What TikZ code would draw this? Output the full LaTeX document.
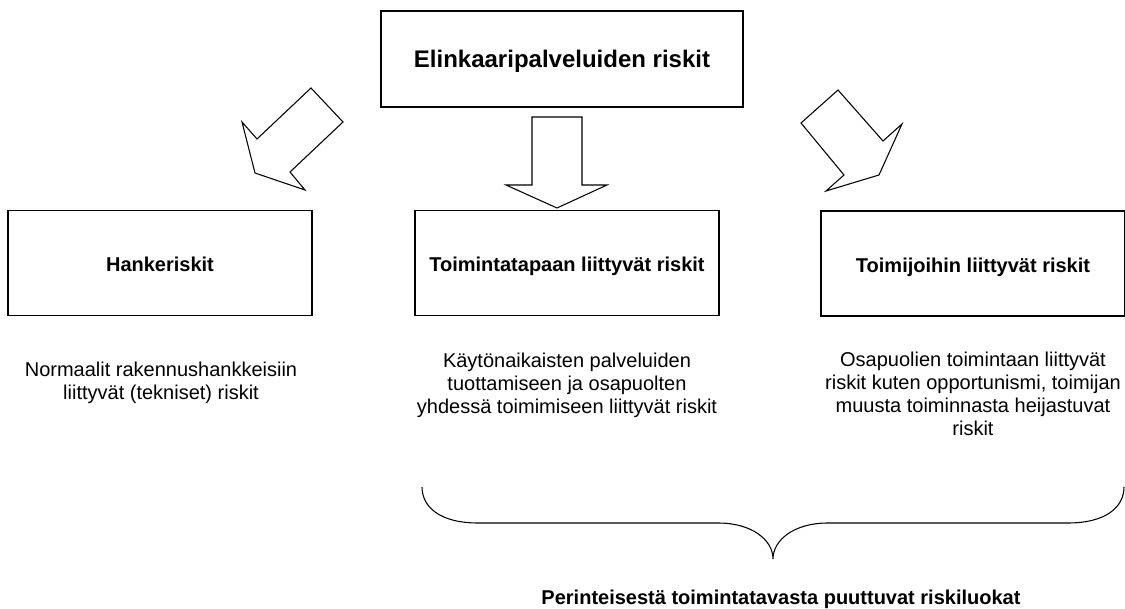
\documentclass[tikz,border=0pt]{standalone}
\usepackage{fontspec}
\setmainfont{Liberation Sans}
\newcommand{\desclines}[1]{\begin{tabular}[t]{@{}c@{}}#1\end{tabular}}
\begin{document}
\begin{tikzpicture}[x=0.75pt,y=-0.75pt,
  riskbox/.style={draw, line width=0.85pt, inner sep=0pt, minimum width=228pt, minimum height=78.75pt,
    font=\fontsize{15}{17.25}\selectfont\bfseries, text height=16pt, text depth=2.5pt},
  titlebox/.style={draw, line width=0.85pt, inner sep=0pt, minimum width=271.5pt, minimum height=72pt,
    font=\fontsize{18}{21}\selectfont\bfseries, text height=17pt, text depth=3.5pt},
  desc/.style={inner sep=0pt, anchor=base, font=\fontsize{15}{17.25}\selectfont},
  blockarrow/.style={draw, line width=0.8pt, line join=miter, fill=white},
  bracestyle/.style={draw, line width=0.8pt}]
\useasboundingbox (0,0) rectangle (1125,609);

\node[titlebox] (top) at (562,59) {Elinkaaripalveluiden riskit};

\node[riskbox] (hanke) at (160,263) {Hankeriskit};
\node[riskbox] (toiminta) at (567,263) {Toimintatapaan liittyvät riskit};
\node[riskbox] (toimija) at (973,263.5) {Toimijoihin liittyvät riskit};

% block arrows
\path[blockarrow] (311,88) -- (343,122) -- (290,172) -- (305,190) -- (255,173) -- (242,122) -- (257,139) -- cycle;
\path[blockarrow] (532,117) -- (582,117) -- (582,185) -- (607,185) -- (557,208) -- (506,185) -- (532,185) -- cycle;
\path[blockarrow] (801,123) -- (838,90) -- (883,141) -- (902,124) -- (879,175) -- (826,191) -- (844,175) -- cycle;

% descriptions
\node[desc] (d1) at (161,377) {\desclines{Normaalit rakennushankkeisiin\\liittyvät (tekniset) riskit}};
\node[desc] (d2) at (567,368) {\desclines{Käytönaikaisten palveluiden\\tuottamiseen ja osapuolten\\yhdessä toimimiseen liittyvät riskit}};
\node[desc] (d3) at (973,367) {\desclines{Osapuolien toimintaan liittyvät\\riskit kuten opportunismi, toimijan\\muusta toiminnasta heijastuvat\\riskit}};

% brace
\coordinate (bl) at (422,487);
\coordinate (br) at (1124,487);
\coordinate (tip) at (773,559);
\path[bracestyle] (bl) .. controls (422,507) and (440,523) .. (478,523) -- (718,523)
  .. controls (752,523) and (773,540) .. (tip)
  .. controls (773,540) and (794,523) .. (828,523) -- (1068,523)
  .. controls (1106,523) and (1124,507) .. (br);

\node[anchor=base, inner sep=0pt, font=\fontsize{15}{17.25}\selectfont\bfseries] (bottom) at (781,604)
  {Perinteisestä toimintatavasta puuttuvat riskiluokat};
\end{tikzpicture}
\end{document}
